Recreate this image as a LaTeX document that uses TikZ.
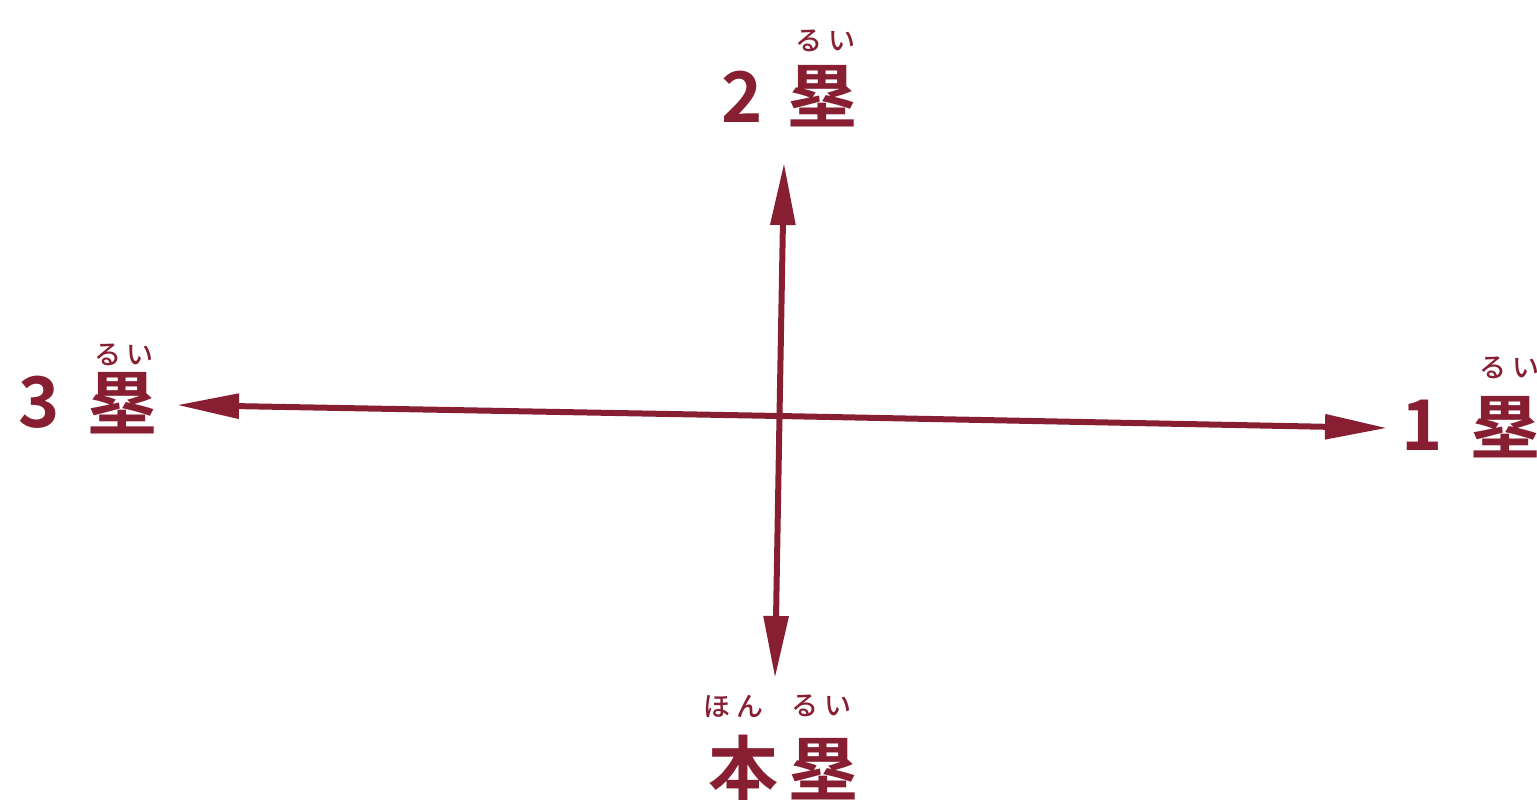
\documentclass[tikz,border=0pt]{standalone}
\usepackage{fontspec}
\newfontfamily\jpb{Noto Sans CJK JP Bold}
\newfontfamily\jpr{Noto Sans CJK JP Medium}
\usetikzlibrary{arrows.meta}
\definecolor{base}{RGB}{135,30,50}
\tikzset{
  axis/.style={draw=base, line width=3pt, -{Triangle[length=31pt,width=12pt]}},
  big/.style={text=base, inner sep=0pt, anchor=center, font=\jpb\fontsize{35}{35}\selectfont},
  ruby/.style={text=base, inner sep=0pt, anchor=center, font=\jpr\fontsize{13.5}{13.5}\selectfont},
}
\begin{document}
\begin{tikzpicture}[x=0.5pt,y=-0.5pt]
\useasboundingbox (0,0) rectangle (1537,799);
% arrow end points
\coordinate (c) at (779.5,416);
\coordinate (tTop) at (784,163);
\coordinate (tBot) at (775,678);
\coordinate (tLeft) at (177,405);
\coordinate (tRight) at (1387,428);
\draw[axis] (c) -- (tTop);
\draw[axis] (c) -- (tBot);
\draw[axis] (c) -- (tLeft);
\draw[axis] (c) -- (tRight);
% 2nd base
\node[big] (n2) at (742,97) {2};
\node[big] (r2) at (822,96) {塁};
\node[ruby] (y2) at (825,41) {る\kern3pt い};
% 3rd base
\node[big] (n3) at (39,402) {3};
\node[big] (r3) at (122,403) {塁};
\node[ruby] (y3) at (124,355) {る\kern3pt い};
% 1st base
\node[big] (n1) at (1422,425) {1};
\node[big] (r1) at (1505,427) {塁};
\node[ruby] (y1) at (1509,368) {る\kern3pt い};
% home
\node[big] (h1) at (743,768) {本};
\node[big] (h2) at (823,769) {塁};
\node[ruby] (yh1) at (733,706) {ほ\kern3pt ん};
\node[ruby] (yh2) at (821,706) {る\kern3pt い};
\end{tikzpicture}
\end{document}
